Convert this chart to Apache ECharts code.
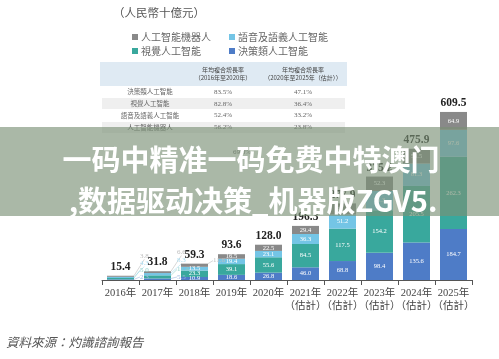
<!DOCTYPE html>
<html><head><meta charset="utf-8">
<script src="https://cdn.jsdelivr.net/npm/echarts@6/dist/echarts.min.js"></script>
<style>html,body{margin:0;padding:0;background:#fff}#c{width:499px;height:359px}</style>
</head><body><div id="c"></div>
<script>
const categories = ['2016年','2017年','2018年','2019年','2020年','2021年\n（估計）','2022年\n（估計）','2023年\n（估計）','2024年\n（估計）','2025年\n（估計）'];
const decision = [2.3, 5.5, 10.9, 18.6, 26.8, 46.0, 68.8, 98.4, 135.6, 184.7];
const vision   = [5.0, 11.4, 23.3, 39.1, 55.6, 84.5, 117.5, 154.2, 205.5, 262.3];
const speech   = [4.3, 8.3, 13.5, 19.4, 23.1, 36.3, 51.2, 70.3, 81.3, 97.6];
const robot    = [3.8, 6.6, 11.6, 16.5, 22.5, 29.4, 40.4, 52.3, 53.5, 64.9];
const totals   = [15.4, 31.8, 59.3, 93.6, 128.0, 196.3, 277.9, 375.2, 475.9, 609.5];
const seriesNames = ['決策類人工智能','視覺人工智能','語音及語義人工智能','人工智能機器人'];
const tableRows = ['決策類人工智能','視覺人工智能','語音及語義人工智能','人工智能機器人'];
const cagr1 = ['83.5%','82.8%','52.4%','56.2%'];
const cagr2 = ['47.1%','36.4%','33.2%','23.8%'];
const tableHeaders = ['年均複合增長率\n（2016年至2020年）','年均複合增長率\n（2020年至2025年（估計））'];
const totalCagr = '69.8%';
const unitText = '（人民幣十億元）';
const sourceText = '資料來源：灼識諮詢報告';
const bannerLines = ['一码中精准一码免费中特澳门', ',数据驱动决策_机器版ZGV5.'];

const colors = ['#4e7cc7', '#39a89d', '#74c5e6', '#898989'];
const paleColors = ['#9db7e0', '#8fd0c8', '#a9dcf0', '#bdbdbd'];
const SERIF = '"Liberation Serif","DejaVu Serif","Noto Sans CJK TC",serif';
const CJK = '"Noto Sans CJK TC","Liberation Serif",serif';
const allData = [decision, vision, speech, robot];

function isExternal(si, di) {
  if (di <= 1) return true;
  if (di === 2 && si === 3) return true;
  return false;
}

const series = allData.map((arr, si) => ({
  name: seriesNames[si],
  type: 'bar',
  stack: 'all',
  barWidth: 27,
  itemStyle: { color: colors[si] },
  data: arr.map((v, di) => {
    if (isExternal(si, di)) {
      return {
        value: v,
        label: { show: true, position: 'right', color: paleColors[si], fontSize: 7, fontFamily: SERIF },
        labelLine: { show: true, lineStyle: { color: paleColors[si], width: 0.6 }, length2: 0 }
      };
    }
    return v;
  }),
  label: { show: true, position: 'inside', color: '#fff', fontSize: 6.5, fontFamily: SERIF,
           formatter: p => p.value.toFixed(1) },
  labelLayout: function (p) {
    const di = p.dataIndex;
    if (!isExternal(si, di)) return {};
    const right = p.rect.x + p.rect.width;
    const bottom = p.rect.y + p.rect.height;
    if (di === 2) return { x: right + 5, y: p.rect.y - 3, align: 'left', verticalAlign: 'middle' };
    return { x: right + 6, y: bottom - 3 - si * 6, align: 'left', verticalAlign: 'middle' };
  }
}));

series.push({
  name: 'total', type: 'bar', stack: 'all', barWidth: 27,
  data: totals.map(() => 0),
  itemStyle: { color: 'transparent' },
  label: { show: true, position: 'top', distance: 3, fontSize: 11.5, fontWeight: 'bold',
           color: '#222', fontFamily: SERIF, formatter: p => totals[p.dataIndex].toFixed(1) }
});

const tX = 100, tW = 247;
const graphic = [];
graphic.push({ type: 'rect', shape: { x: tX, y: 62, width: tW, height: 24 }, style: { fill: '#dfeaf3' }, z: 1 });
graphic.push({ type: 'rect', shape: { x: tX + 2, y: 98, width: tW - 4, height: 11 }, style: { fill: '#efefef' }, z: 1 });
graphic.push({ type: 'rect', shape: { x: tX + 2, y: 122, width: tW - 4, height: 11 }, style: { fill: '#efefef' }, z: 1 });
tableHeaders.forEach((h, i) => {
  graphic.push({ type: 'text', x: [223, 303][i], y: 74, z: 2,
    style: { text: h, fill: '#444', font: '6px ' + CJK, align: 'center', verticalAlign: 'middle', lineHeight: 8 } });
});
tableRows.forEach((r, i) => {
  const y = 92 + i * 11.8;
  graphic.push({ type: 'text', x: 150, y: y, z: 2, style: { text: r, fill: '#666', font: '6.5px ' + CJK, align: 'center', verticalAlign: 'middle' } });
  graphic.push({ type: 'text', x: 223, y: y, z: 2, style: { text: cagr1[i], fill: '#666', font: '7px ' + SERIF, align: 'center', verticalAlign: 'middle' } });
  graphic.push({ type: 'text', x: 303, y: y, z: 2, style: { text: cagr2[i], fill: '#666', font: '7px ' + SERIF, align: 'center', verticalAlign: 'middle' } });
});
graphic.push({ type: 'text', x: 113, y: 13, z: 2, style: { text: unitText, fill: '#555', font: '11.5px ' + CJK, verticalAlign: 'middle' } });
graphic.push({ type: 'text', x: 6, y: 342, z: 2, style: { text: sourceText, fill: '#555', font: 'italic 12.5px ' + CJK, verticalAlign: 'middle' } });
graphic.push({ type: 'text', x: 242, y: 152, z: 2, style: { text: totalCagr, fill: '#666', font: '7px ' + SERIF, align: 'center', verticalAlign: 'middle' } });
graphic.push({ type: 'rect', shape: { x: 0, y: 127, width: 499, height: 89 }, style: { fill: 'rgba(122,144,118,0.64)' }, z: 100 });
graphic.push({ type: 'text', x: 251, y: 160, z: 101, style: { text: bannerLines[0], fill: '#fff', font: 'bold 29px "Noto Sans CJK SC"', align: 'center', verticalAlign: 'middle' } });
graphic.push({ type: 'text', x: 253, y: 201, z: 101, style: { text: bannerLines[1], fill: '#fff', font: 'bold 29px "Noto Sans CJK SC"', align: 'center', verticalAlign: 'middle' } });

const chart = echarts.init(document.getElementById('c'), null, { renderer: 'canvas' });
chart.setOption({
  animation: false,
  backgroundColor: '#fff',
  grid: { left: 102, right: 27, top: 87, bottom: 79 },
  legend: [
    { orient: 'vertical', left: 127, top: 27, itemWidth: 6, itemHeight: 6, itemGap: 4, icon: 'rect',
      data: ['人工智能機器人', '視覺人工智能'],
      textStyle: { fontSize: 10, color: '#666', fontFamily: CJK, padding: [0, 0, 0, -2] } },
    { orient: 'vertical', left: 224, top: 27, itemWidth: 6, itemHeight: 6, itemGap: 4, icon: 'rect',
      data: ['語音及語義人工智能', '決策類人工智能'],
      textStyle: { fontSize: 10, color: '#666', fontFamily: CJK, padding: [0, 0, 0, -2] } }
  ],
  xAxis: {
    type: 'category', data: categories,
    axisLine: { lineStyle: { color: '#555', width: 1 } },
    axisTick: { show: true, length: 5, lineStyle: { color: '#555' } },
    axisLabel: { color: '#444', fontSize: 10.5, fontFamily: SERIF, margin: 7, lineHeight: 13, interval: 0 }
  },
  yAxis: { type: 'value', min: 0, max: 700, show: false, splitLine: { show: false } },
  series: series,
  graphic: graphic
});
</script></body></html>
